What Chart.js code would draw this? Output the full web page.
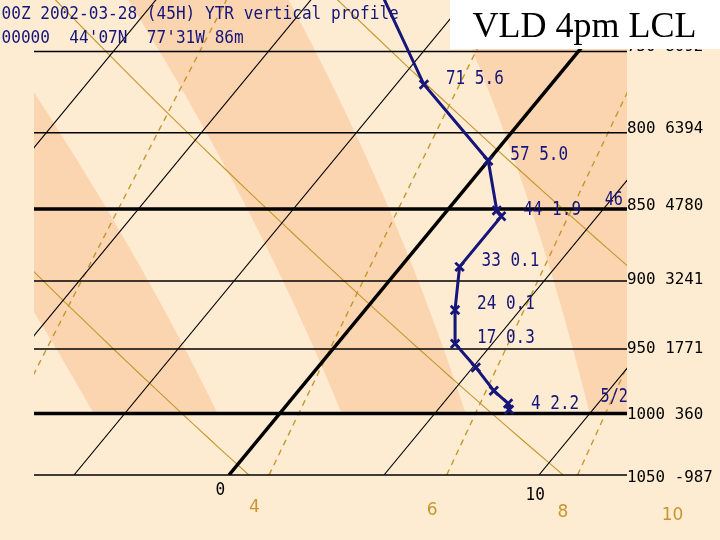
<!DOCTYPE html>
<html>
<head>
<meta charset="utf-8">
<script src="https://cdn.jsdelivr.net/npm/chart.js@4.4.1/dist/chart.umd.min.js"></script>
<style>
  html, body { margin: 0; padding: 0; background: #fdecd2; }
  canvas { display: block; }
</style>
</head>
<body>
<canvas id="skewChart" width="720" height="540"></canvas>
<script>
// sounding: pressure (hPa) and temperature (C)
const profilePressure = [700, 770, 818, 851, 855, 890, 921, 946, 964, 982, 992, 997];
const profileTemp = [-9.1, -4.1, 0.0, 1.6, 1.9, 1.9, 2.9, 3.8, 5.1, 6.3, 7.1, 7.3];
const profileNotes = ['', '71 5.6', '57 5.0', '', '44 1.9', '33 0.1', '24 0.1', '17 0.3', '', '', '', '4 2.2'];

// diagram grid
const pressureLevels = [750, 800, 850, 900, 950, 1000, 1050];
const levelHeightsFt = ['8092', '6394', '4780', '3241', '1771', '360', '-987'];
const boldLevels = [850, 1000];
const isotherms = [-15, -10, -5, 0, 5, 10, 15];
const isothermLabels = [0, 10];
const dryAdiabats = [270, 280, 290];            // potential temperature, K
const mixingRatios = [2, 4, 6, 8, 10];          // g/kg
const mixingLabels = [4, 6, 8, 10];
const moistBands = [[-6, -2], [2, 6], [10, 14]]; // wet-bulb potential temperature, C
const windNotes = ['46', '5/2'];
const windLevels = [850, 1000];

const P_BOTTOM = 1050, P_TOP = 720;
const SKEW = 33.5;
const X_MIN = -6.29, X_MAX = 12.84;

const CREAM = '#fdecd2';
const PEACH = '#fbd5b0';
const GOLD = '#c8962d';
const NAVY = '#15157a';

function skewX(t, p) {
    return t + SKEW * Math.log(P_BOTTOM / p);
}

function satVap(tc) {
    return 6.112 * Math.exp(17.67 * tc / (tc + 243.5));
}

function moistLapse(p, tk) {
    const es = satVap(tk - 273.15);
    const rs = 0.622 * es / (p - es);
    return (287.04 * tk + 2.501e6 * rs) /
        (p * (1005.7 + 2.501e6 * 2.501e6 * rs * 0.622 / (287.04 * tk * tk)));
}

function moistCurve(thetaW) {
    const pts = [];
    let tk = thetaW + 273.15;
    const h = -5;
    for (let p = 1000; p >= 700; p += h) {
        pts.push({x: skewX(tk - 273.15, p), y: p});
        const k1 = moistLapse(p, tk);
        const k2 = moistLapse(p + h / 2, tk + h / 2 * k1);
        const k3 = moistLapse(p + h / 2, tk + h / 2 * k2);
        const k4 = moistLapse(p + h, tk + h * k3);
        tk += h / 6 * (k1 + 2 * k2 + 2 * k3 + k4);
    }
    return pts;
}

function dryCurve(theta) {
    const pts = [];
    for (let p = P_BOTTOM; p >= 700; p -= 10) {
        pts.push({x: skewX(theta * Math.pow(p / 1000, 0.2857) - 273.15, p), y: p});
    }
    return pts;
}

function dewPoint(w, p) {
    const e = w * p / (622 + w);
    const l = Math.log(e / 6.112);
    return 243.5 * l / (17.67 - l);
}

function mixingCurve(w) {
    const pts = [];
    for (let p = P_BOTTOM; p >= 700; p -= 10) {
        pts.push({x: skewX(dewPoint(w, p), p), y: p});
    }
    return pts;
}

const datasets = [];

// shaded bands between moist adiabats, only above 1000 hPa
moistBands.forEach(b => {
    datasets.push({
        data: moistCurve(b[0]).concat(moistCurve(b[1]).reverse()),
        showLine: true,
        fill: 'shape',
        backgroundColor: PEACH,
        borderColor: 'rgba(0,0,0,0)',
        borderWidth: 0,
        pointRadius: 0,
        order: 30
    });
});

mixingRatios.forEach(w => {
    datasets.push({
        data: mixingCurve(w),
        showLine: true,
        borderColor: GOLD,
        borderWidth: 1.4,
        borderDash: [6, 5],
        pointRadius: 0,
        order: 20
    });
});

dryAdiabats.forEach(th => {
    datasets.push({
        data: dryCurve(th),
        showLine: true,
        borderColor: GOLD,
        borderWidth: 1.1,
        pointRadius: 0,
        order: 20
    });
});

isotherms.forEach(t => {
    datasets.push({
        data: [{x: skewX(t, P_BOTTOM), y: P_BOTTOM}, {x: skewX(t, 700), y: 700}],
        showLine: true,
        borderColor: '#000',
        borderWidth: t === 0 ? 3.5 : 1.1,
        pointRadius: 0,
        order: 15
    });
});

pressureLevels.forEach(p => {
    datasets.push({
        data: [{x: X_MIN, y: p}, {x: X_MAX, y: p}],
        showLine: true,
        borderColor: '#000',
        borderWidth: boldLevels.includes(p) ? 3.5 : 1.5,
        pointRadius: 0,
        clip: 4,
        order: 10
    });
});

const profileIndex = datasets.length;
datasets.push({
    data: profilePressure.map((p, i) => ({x: skewX(profileTemp[i], p), y: p})),
    showLine: true,
    borderColor: NAVY,
    borderWidth: 3,
    pointStyle: 'crossRot',
    pointRadius: 6,
    pointBorderWidth: 2.8,
    pointBorderColor: NAVY,
    order: 0
});

function monoText(ctx, s, x, y, size, stretch, color, align) {
    ctx.save();
    ctx.font = size + 'px "DejaVu Sans Mono"';
    ctx.fillStyle = color;
    ctx.textAlign = align || 'left';
    ctx.textBaseline = 'alphabetic';
    ctx.translate(x, y);
    ctx.scale(stretch, 1);
    ctx.fillText(s, 0, 0);
    ctx.restore();
}

const background = {
    id: 'background',
    beforeDraw(chart) {
        const ctx = chart.ctx;
        ctx.save();
        ctx.fillStyle = CREAM;
        ctx.fillRect(0, 0, chart.width, chart.height);
        ctx.restore();
    }
};

const annotations = {
    id: 'annotations',
    afterDraw(chart) {
        const ctx = chart.ctx;
        const xs = chart.scales.x, ys = chart.scales.y, area = chart.chartArea;

        // level labels: pressure and height (ft); the scan drifts lower toward the bottom
        pressureLevels.forEach((p, i) => {
            const drift = Math.max(0, (p - 800) / 36);
            monoText(ctx, p + ' ' + levelHeightsFt[i], area.right, ys.getPixelForValue(p) + drift, 16.5, 0.96, '#000');
        });

        isothermLabels.forEach((t, i) => {
            const px = xs.getPixelForValue(skewX(t, P_BOTTOM));
            monoText(ctx, String(t), px - 13.5, area.bottom + 20 + i * 5, 18.5, 0.87, '#000');
        });

        ctx.save();
        ctx.font = '17px "DejaVu Sans"';
        ctx.fillStyle = GOLD;
        mixingLabels.forEach((w, i) => {
            const px = xs.getPixelForValue(skewX(dewPoint(w, P_BOTTOM), P_BOTTOM));
            ctx.fillText(String(w), px - 20, area.bottom + 37 + i * 2.7);
        });
        ctx.restore();

        // notes beside the sounding points
        const pts = chart.getDatasetMeta(profileIndex).data;
        profileNotes.forEach((s, i) => {
            if (s) monoText(ctx, s, pts[i].x + 22, pts[i].y - 1, 20, 0.8, NAVY);
        });
        monoText(ctx, windNotes[0], area.right - 4, ys.getPixelForValue(windLevels[0]) - 4, 19, 0.8, NAVY, 'right');
        monoText(ctx, windNotes[1], area.right + 1, ys.getPixelForValue(windLevels[1]) - 12, 19, 0.8, NAVY, 'right');

        // header
        monoText(ctx, '00Z 2002-03-28 (45H) YTR vertical profile', 1.5, 18.5, 18.5, 0.87, NAVY);
        monoText(ctx, "00000  44'07N  77'31W 86m", 1.5, 42.5, 18.5, 0.87, NAVY);

        // caption box
        ctx.save();
        ctx.fillStyle = '#fff';
        ctx.fillRect(450, 0, 270, 49);
        ctx.fillStyle = '#000';
        ctx.font = '36px "Liberation Serif"';
        ctx.fillText('VLD 4pm LCL', 472.5, 37);
        ctx.restore();
    }
};

const ctx = document.getElementById('skewChart').getContext('2d');
new Chart(ctx, {
    type: 'scatter',
    data: { datasets: datasets },
    options: {
        responsive: false,
        animation: false,
        devicePixelRatio: 1,
        layout: { autoPadding: false, padding: { left: 34, right: 93, top: 0, bottom: 65 } },
        scales: {
            x: { type: 'linear', min: X_MIN, max: X_MAX, bounds: 'data', display: false },
            y: { type: 'logarithmic', min: P_TOP, max: P_BOTTOM, reverse: true, bounds: 'data', display: false }
        },
        plugins: {
            legend: { display: false },
            tooltip: { enabled: false }
        }
    },
    plugins: [background, annotations]
});
</script>
</body>
</html>
